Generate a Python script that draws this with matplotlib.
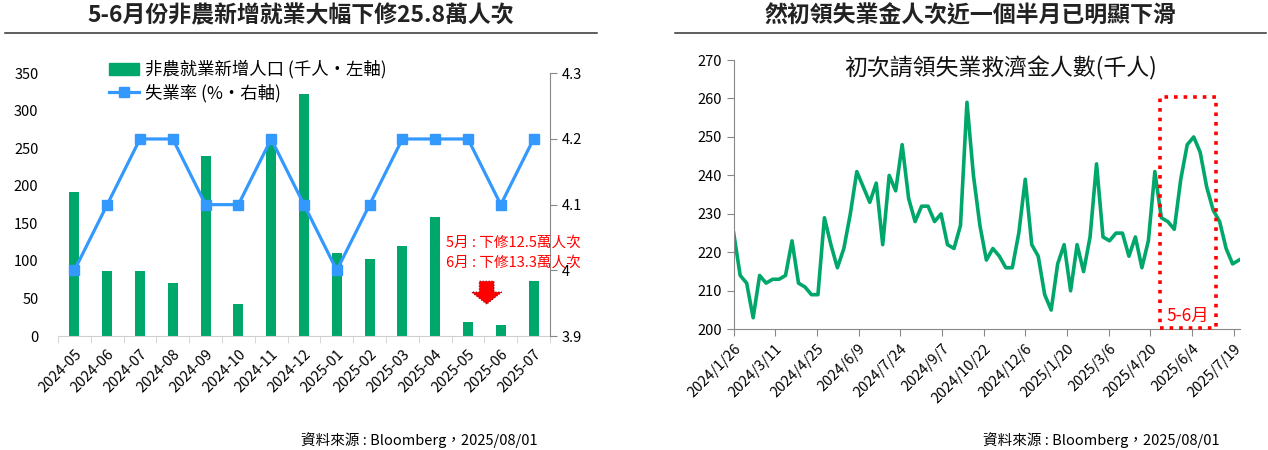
import matplotlib
matplotlib.use('Agg')
import matplotlib.pyplot as plt
import matplotlib.dates as mdates
from matplotlib.patches import Rectangle, FancyArrow
from matplotlib.lines import Line2D
import numpy as np
import pandas as pd

plt.rcParams['font.family'] = ['Noto Sans CJK TC', 'DejaVu Sans']

# left chart data
months = ['2024-05', '2024-06', '2024-07', '2024-08', '2024-09', '2024-10', '2024-11',
          '2024-12', '2025-01', '2025-02', '2025-03', '2025-04', '2025-05', '2025-06', '2025-07']
payrolls = [192, 87, 87, 71, 240, 43, 261, 323, 111, 102, 120, 158, 19, 14, 73]
unemp = [4.0, 4.1, 4.2, 4.2, 4.1, 4.1, 4.2, 4.1, 4.0, 4.1, 4.2, 4.2, 4.2, 4.1, 4.2]

# right chart data (weekly initial claims, thousands)
claims_start = '2024-01-26'
claims = [225, 214, 212, 203, 214, 212, 213, 213, 214, 223,
          212, 211, 209, 209, 229, 222, 216, 221, 230, 241,
          237, 233, 238, 222, 240, 236, 248, 234, 228, 232,
          232, 228, 230, 222, 221, 227, 259, 240, 227, 218,
          221, 219, 216, 216, 225, 239, 222, 219, 209, 205,
          217, 222, 210, 222, 215, 224, 243, 224, 223, 225,
          225, 219, 224, 216, 223, 241, 229, 228, 226, 239,
          248, 250, 246, 237, 231, 228, 221, 217, 218]
box_start = '2025-05-01'
box_end = '2025-06-30'

green = '#00A76A'
blue = '#3399FF'
W, H = 1268, 450

fig = plt.figure(figsize=(12.68, 4.5), dpi=100)

def fx(px):
    return px / W

def fy(py):
    return 1 - py / H

# titles and rules
fig.text(fx(301), fy(16), '5-6月份非農新增就業大幅下修25.8萬人次', ha='center', va='center',
         fontsize=16.5, fontweight='bold', color='#222222')
fig.text(fx(970), fy(16), '然初領失業金人次近一個半月已明顯下滑', ha='center', va='center',
         fontsize=16.5, fontweight='bold', color='#222222')
fig.add_artist(Line2D([fx(5), fx(597)], [fy(33), fy(33)], color='#333333', lw=1.1))
fig.add_artist(Line2D([fx(675), fx(1266)], [fy(33), fy(33)], color='#333333', lw=1.1))

# ---------------- left chart ----------------
ax = fig.add_axes([fx(58), fy(336), fx(550 - 58), (336 - 73.3) / H])
x = np.arange(len(months))
ax.bar(x, payrolls, width=0.3, color=green, zorder=2)
ax.set_xlim(-0.5, len(months) - 0.5)
ax.set_ylim(0, 350)
ax.set_yticks(range(0, 351, 50))
ax.set_xticks(x)
ax.set_xticklabels(months, rotation=45, ha='right', va='top', rotation_mode='anchor', fontsize=10.5)
ax.set_xticks(np.arange(-0.5, len(months), 1), minor=True)
ax.tick_params(axis='x', which='major', length=0, pad=8)
ax.tick_params(axis='x', which='minor', length=5, color='#d0d0d0', direction='out')
ax.tick_params(axis='y', length=0, labelsize=10.5, pad=14)
for s in ['top', 'right', 'left']:
    ax.spines[s].set_visible(False)
ax.spines['bottom'].set_color('#d0d0d0')

ax2 = ax.twinx()
ax2.plot(x, unemp, color=blue, lw=2.3, marker='s', markersize=7, zorder=3)
ax2.set_ylim(3.9, 4.3)
ax2.set_yticks([3.9, 4.0, 4.1, 4.2, 4.3])
ax2.set_yticklabels(['3.9', '4', '4.1', '4.2', '4.3'])
ax2.tick_params(axis='y', length=5, color='#888888', labelsize=10.5, direction='out')
for s in ['top', 'left', 'bottom']:
    ax2.spines[s].set_visible(False)
ax2.spines['right'].set_color('#888888')

handles = [Rectangle((0, 0), 1, 1, color=green),
           Line2D([], [], color=blue, lw=2.3, marker='s', markersize=7)]
fig.legend(handles, ['非農就業新增人口 (千人・左軸)', '失業率 (%・右軸)'],
           loc='upper left', bbox_to_anchor=(fx(102), fy(53)), frameon=False,
           fontsize=12.5, handlelength=1.75, handletextpad=0.3, labelspacing=0.3,
           borderaxespad=0)

# revision note and arrow
fig.text(fx(446), fy(243), '5月 : 下修12.5萬人次', color='#FF0000', fontsize=10.5, va='center')
fig.text(fx(446), fy(263), '6月 : 下修13.3萬人次', color='#FF0000', fontsize=10.5, va='center')
ax.add_patch(FancyArrow(12.57, 73, 0, -30.5, width=0.45, head_width=0.92, head_length=16,
                        length_includes_head=True, facecolor='#FF0000', edgecolor='#8B0000',
                        linestyle=':', lw=0.8, zorder=4))

fig.text(fx(538), fy(440), '資料來源 : Bloomberg，2025/08/01', ha='right', va='center', fontsize=10.5)

# ---------------- right chart ----------------
bx = fig.add_axes([fx(733.7), fy(329.3), fx(1240 - 733.7), (329.3 - 60) / H])
dates = pd.date_range(claims_start, periods=len(claims), freq='7D')
bx.plot(dates, claims, color=green, lw=2.6, zorder=2)
bx.set_xlim(pd.Timestamp('2024-01-26'), pd.Timestamp('2025-07-26'))
bx.set_ylim(200, 270)
bx.set_yticks(range(200, 271, 10))
tick_dates = pd.date_range('2024-01-26', periods=13, freq='45D')
bx.set_xticks(tick_dates)
bx.set_xticklabels([f'{d.year}/{d.month}/{d.day}' for d in tick_dates], rotation=45,
                   ha='right', va='top', rotation_mode='anchor', fontsize=10.5)
bx.tick_params(axis='x', length=5, color='#888888', pad=4)
bx.tick_params(axis='y', length=5, color='#888888', labelsize=10.5)
for s in ['top', 'right']:
    bx.spines[s].set_visible(False)
bx.spines['left'].set_color('#888888')
bx.spines['bottom'].set_color('#888888')

bx.text(0.527, 0.97, '初次請領失業救濟金人數(千人)', transform=bx.transAxes, ha='center', va='center',
        fontsize=16.5, color='#111111')

x0 = mdates.date2num(pd.Timestamp(box_start))
x1 = mdates.date2num(pd.Timestamp(box_end))
bx.add_patch(Rectangle((x0, 200.4), x1 - x0, 260.4 - 200.4, fill=False, edgecolor='#FF0000',
                       linestyle=':', lw=2.6, zorder=3, clip_on=False))
bx.text((x0 + x1) / 2, 203.5, '5-6月', color='#FF0000', ha='center', va='center', fontsize=12.5)

fig.text(fx(1220), fy(440), '資料來源 : Bloomberg，2025/08/01', ha='right', va='center', fontsize=10.5)

fig.savefig('out.png', dpi=100)
